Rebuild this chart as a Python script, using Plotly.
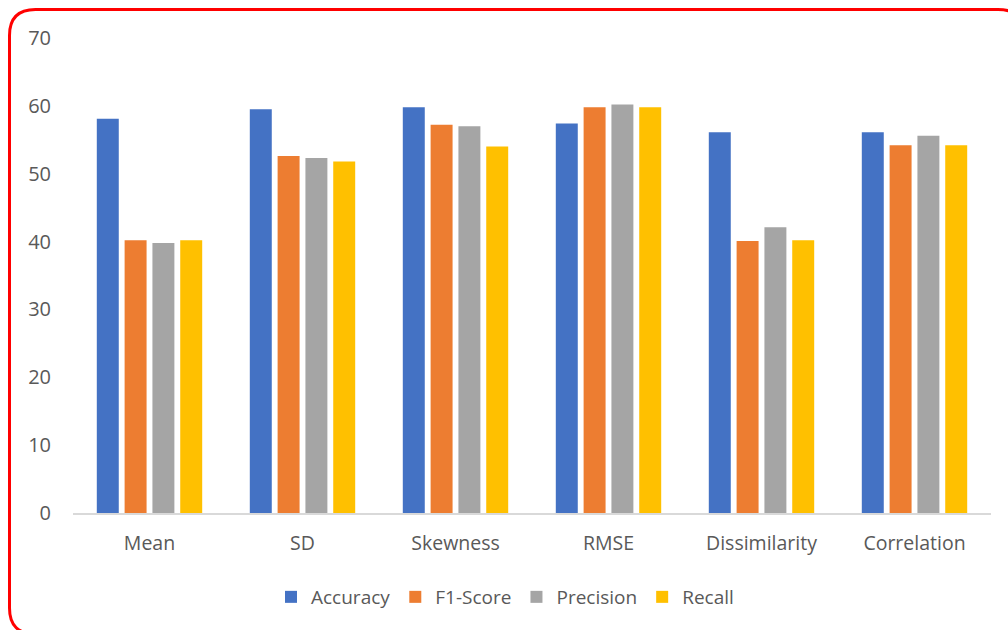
import plotly.graph_objects as go

categories = ["Mean", "SD", "Skewness", "RMSE", "Dissimilarity", "Correlation"]
accuracy = [58.1, 59.5, 59.8, 57.4, 56.1, 56.1]
f1_score = [40.2, 52.6, 57.2, 59.8, 40.1, 54.2]
precision = [39.8, 52.3, 57.0, 60.2, 42.1, 55.6]
recall = [40.2, 51.8, 54.0, 59.8, 40.2, 54.2]
series_names = ["Accuracy", "F1-Score", "Precision", "Recall"]
series_colors = ["#4472C4", "#ED7D31", "#A5A5A5", "#FFC000"]
y_ticks = [0, 10, 20, 30, 40, 50, 60, 70]

W, H = 1008, 630
L, R, T, B = 73, 17, 38, 117
pw, ph = W - L - R, H - T - B

fig = go.Figure()
for name, vals, col in zip(series_names, [accuracy, f1_score, precision, recall], series_colors):
    fig.add_trace(go.Bar(name=name, x=categories, y=vals, marker=dict(color=col, line=dict(width=0))))


def px2paper(x, y):
    return (x - L) / pw, (H - B - y) / ph


def rounded_rect(x0, y0, x1, y1, r):
    def P(x, y):
        a, b = px2paper(x, y)
        return f"{a:.5f},{b:.5f}"
    return (
        f"M{P(x0 + r, y0)} L{P(x1 - r, y0)} Q{P(x1, y0)} {P(x1, y0 + r)} "
        f"L{P(x1, y1 - r)} Q{P(x1, y1)} {P(x1 - r, y1)} "
        f"L{P(x0 + r, y1)} Q{P(x0, y1)} {P(x0, y1 - r)} "
        f"L{P(x0, y0 + r)} Q{P(x0, y0)} {P(x0 + r, y0)} Z"
    )


fig.add_shape(type="path", xref="paper", yref="paper",
              path=rounded_rect(9.5, 9.5, 1024, 634, 26),
              line=dict(color="#FF0000", width=3), fillcolor="rgba(0,0,0,0)", layer="above")

font_color = "#595959"
fig.update_layout(
    width=W, height=H,
    margin=dict(l=L, r=R, t=T, b=B),
    paper_bgcolor="white", plot_bgcolor="white",
    barmode="group", bargap=0.273, bargroupgap=0.21,
    font=dict(family="'Open Sans', sans-serif", color=font_color, size=19),
    showlegend=True,
    legend=dict(orientation="h", x=(505 - L) / pw, xanchor="center", y=(H - B - 597) / ph, yanchor="middle",
                font=dict(size=19, color=font_color), itemwidth=30, traceorder="normal"),
    xaxis=dict(showline=True, linecolor="#D9D9D9", linewidth=1.5, showgrid=False, ticks="",
               tickfont=dict(size=19.5, color=font_color), ticklabelstandoff=12),
    yaxis=dict(range=[0, 70], tickvals=y_ticks, showgrid=False, zeroline=False, showline=False,
               ticks="", tickfont=dict(size=20, color=font_color), ticklabelstandoff=21),
)

fig.write_html("out.html")
